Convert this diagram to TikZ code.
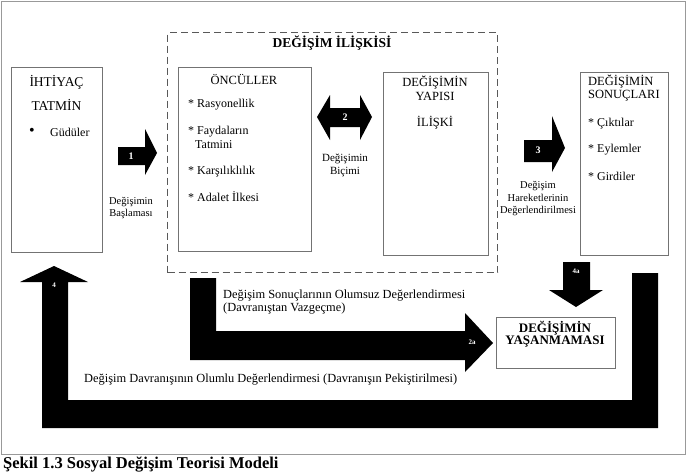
\documentclass[tikz,border=0pt]{standalone}
\usepackage{fontspec}
\setmainfont{Liberation Serif}
\begin{document}
\begin{tikzpicture}[x=1pt,y=-1pt,
  box/.style={draw=black!55, line width=0.8pt, fill=white, anchor=north west, inner sep=0pt},
  grp/.style={draw=black!65, line width=1.1pt, dash pattern=on 7pt off 4pt, anchor=north west, inner sep=0pt},
  head/.style={inner sep=0pt, font=\fontsize{12.5}{12}\selectfont},
  item/.style={inner sep=0pt, anchor=west, font=\fontsize{12}{12}\selectfont},
  small/.style={inner sep=0pt, align=center, font=\fontsize{10.5}{12.5}\selectfont},
  bold/.style={inner sep=0pt, align=center, font=\bfseries\fontsize{13}{12}\selectfont},
  num/.style={inner sep=0pt, text=white, font=\bfseries\fontsize{10}{10}\selectfont},
  tinynum/.style={inner sep=0pt, text=white, font=\bfseries\fontsize{7}{7}\selectfont},
  note/.style={inner sep=0pt, anchor=west, align=left, font=\fontsize{12.4}{13}\selectfont},
  blk/.style={fill=black}]
\useasboundingbox (0,0) rectangle (688,474);
\fill[white] (0,0) rectangle (688,474);
\draw[black!40, line width=1pt] (1,1) rectangle (685,454);

% boxes
\node[box, minimum width=91pt, minimum height=185pt] (ihtiyac) at (11,67) {};
\node[grp, minimum width=330pt, minimum height=240pt] (iliski) at (167,32) {};
\node[box, minimum width=133pt, minimum height=184pt] (onculler) at (178,67) {};
\node[box, minimum width=105pt, minimum height=183pt] (yapi) at (383,72) {};
\node[box, minimum width=88pt, minimum height=183pt] (sonuc) at (580,72) {};
\node[box, minimum width=119pt, minimum height=51pt] (yasanma) at (496,317) {};

% box texts
\node[head, font=\fontsize{13.5}{12}\selectfont] (t1) at (56.5,82) {İHTİYAÇ};
\node[head, font=\fontsize{13.5}{12}\selectfont] (t2) at (56.5,105) {TATMİN};
\node[inner sep=0pt, font=\fontsize{16}{16}\selectfont] (t3) at (32,132) {•};
\node[item] (t4) at (50,132) {Güdüler};

\node[bold, font=\bfseries\fontsize{13.5}{12}\selectfont] (t5) at (332,43) {DEĞİŞİM İLİŞKİSİ};
\node[head] (t6) at (244,79) {ÖNCÜLLER};
\node[item] (t7) at (188,105) {* Rasyonellik};
\node[item] (t8) at (188,132) {* Faydaların};
\node[item] (t9) at (195,145) {Tatmini};
\node[item] (t10) at (188,172) {* Karşılıklılık};
\node[item] (t11) at (188,197) {* Adalet İlkesi};

\node[head] (t12) at (435,83) {DEĞİŞİMİN};
\node[head] (t13) at (435,96) {YAPISI};
\node[head] (t14) at (435,123) {İLİŞKİ};

\node[head, anchor=west] (t15) at (588,82) {DEĞİŞİMİN};
\node[head, anchor=west] (t16) at (588,96) {SONUÇLARI};
\node[item] (t17) at (588,124) {* Çıktılar};
\node[item] (t18) at (588,150) {* Eylemler};
\node[item] (t19) at (588,176) {* Girdiler};

\node[bold] (t20) at (555,334) {DEĞİŞİMİN\\YAŞANMAMASI};

% block arrows
\fill[blk] (118,147) -- (145,147) -- (145,129) -- (157,153) -- (145,175) -- (145,165) -- (118,165) -- cycle;
\node[num] (n1) at (131,156) {1};
\node[small] (l1) at (131,208) {Değişimin\\Başlaması};

\fill[blk] (317,117) -- (330,95) -- (330,108) -- (360,108) -- (360,95) -- (372,117) -- (360,140) -- (360,127) -- (330,127) -- (330,140) -- cycle;
\node[num] (n2) at (345,117) {2};
\node[small, font=\fontsize{11}{13}\selectfont] (l2) at (345,165) {Değişimin\\Biçimi};

\fill[blk] (524,140) -- (552,140) -- (552,116) -- (565,148) -- (552,172) -- (552,162) -- (524,162) -- cycle;
\node[num] (n3) at (538,150) {3};
\node[small] (l3) at (538,199) {Değişim\\Hareketlerinin\\Değerlendirilmesi};

\fill[blk] (563,262) -- (590,262) -- (590,290) -- (603,290) -- (576,307) -- (549,290) -- (563,290) -- cycle;
\node[tinynum] (n4a) at (576,271) {4a};

\fill[blk] (190,278) -- (216,278) -- (216,331) -- (465,331) -- (465,313) -- (493,343) -- (465,372) -- (465,360) -- (190,360) -- cycle;
\node[tinynum] (n2a) at (472,342) {2a};
\node[note] (l2a) at (223,302.5) {Değişim Sonuçlarının Olumsuz Değerlendirmesi\\(Davranıştan Vazgeçme)};

\fill[blk] (54,266) -- (88,282) -- (68,282) -- (68,400) -- (632,400) -- (632,273) -- (658,273) -- (658,428) -- (42,428) -- (42,282) -- (20,282) -- cycle;
\node[tinynum] (n4) at (54,285) {4};
\node[note] (l4) at (84,380) {Değişim Davranışının Olumlu Değerlendirmesi (Davranışın Pekiştirilmesi)};

% caption
\node[inner sep=0pt, anchor=north west, font=\bfseries\fontsize{16.5}{16.5}\selectfont] (cap) at (3,457) {Şekil 1.3 Sosyal Değişim Teorisi Modeli};
\end{tikzpicture}
\end{document}
